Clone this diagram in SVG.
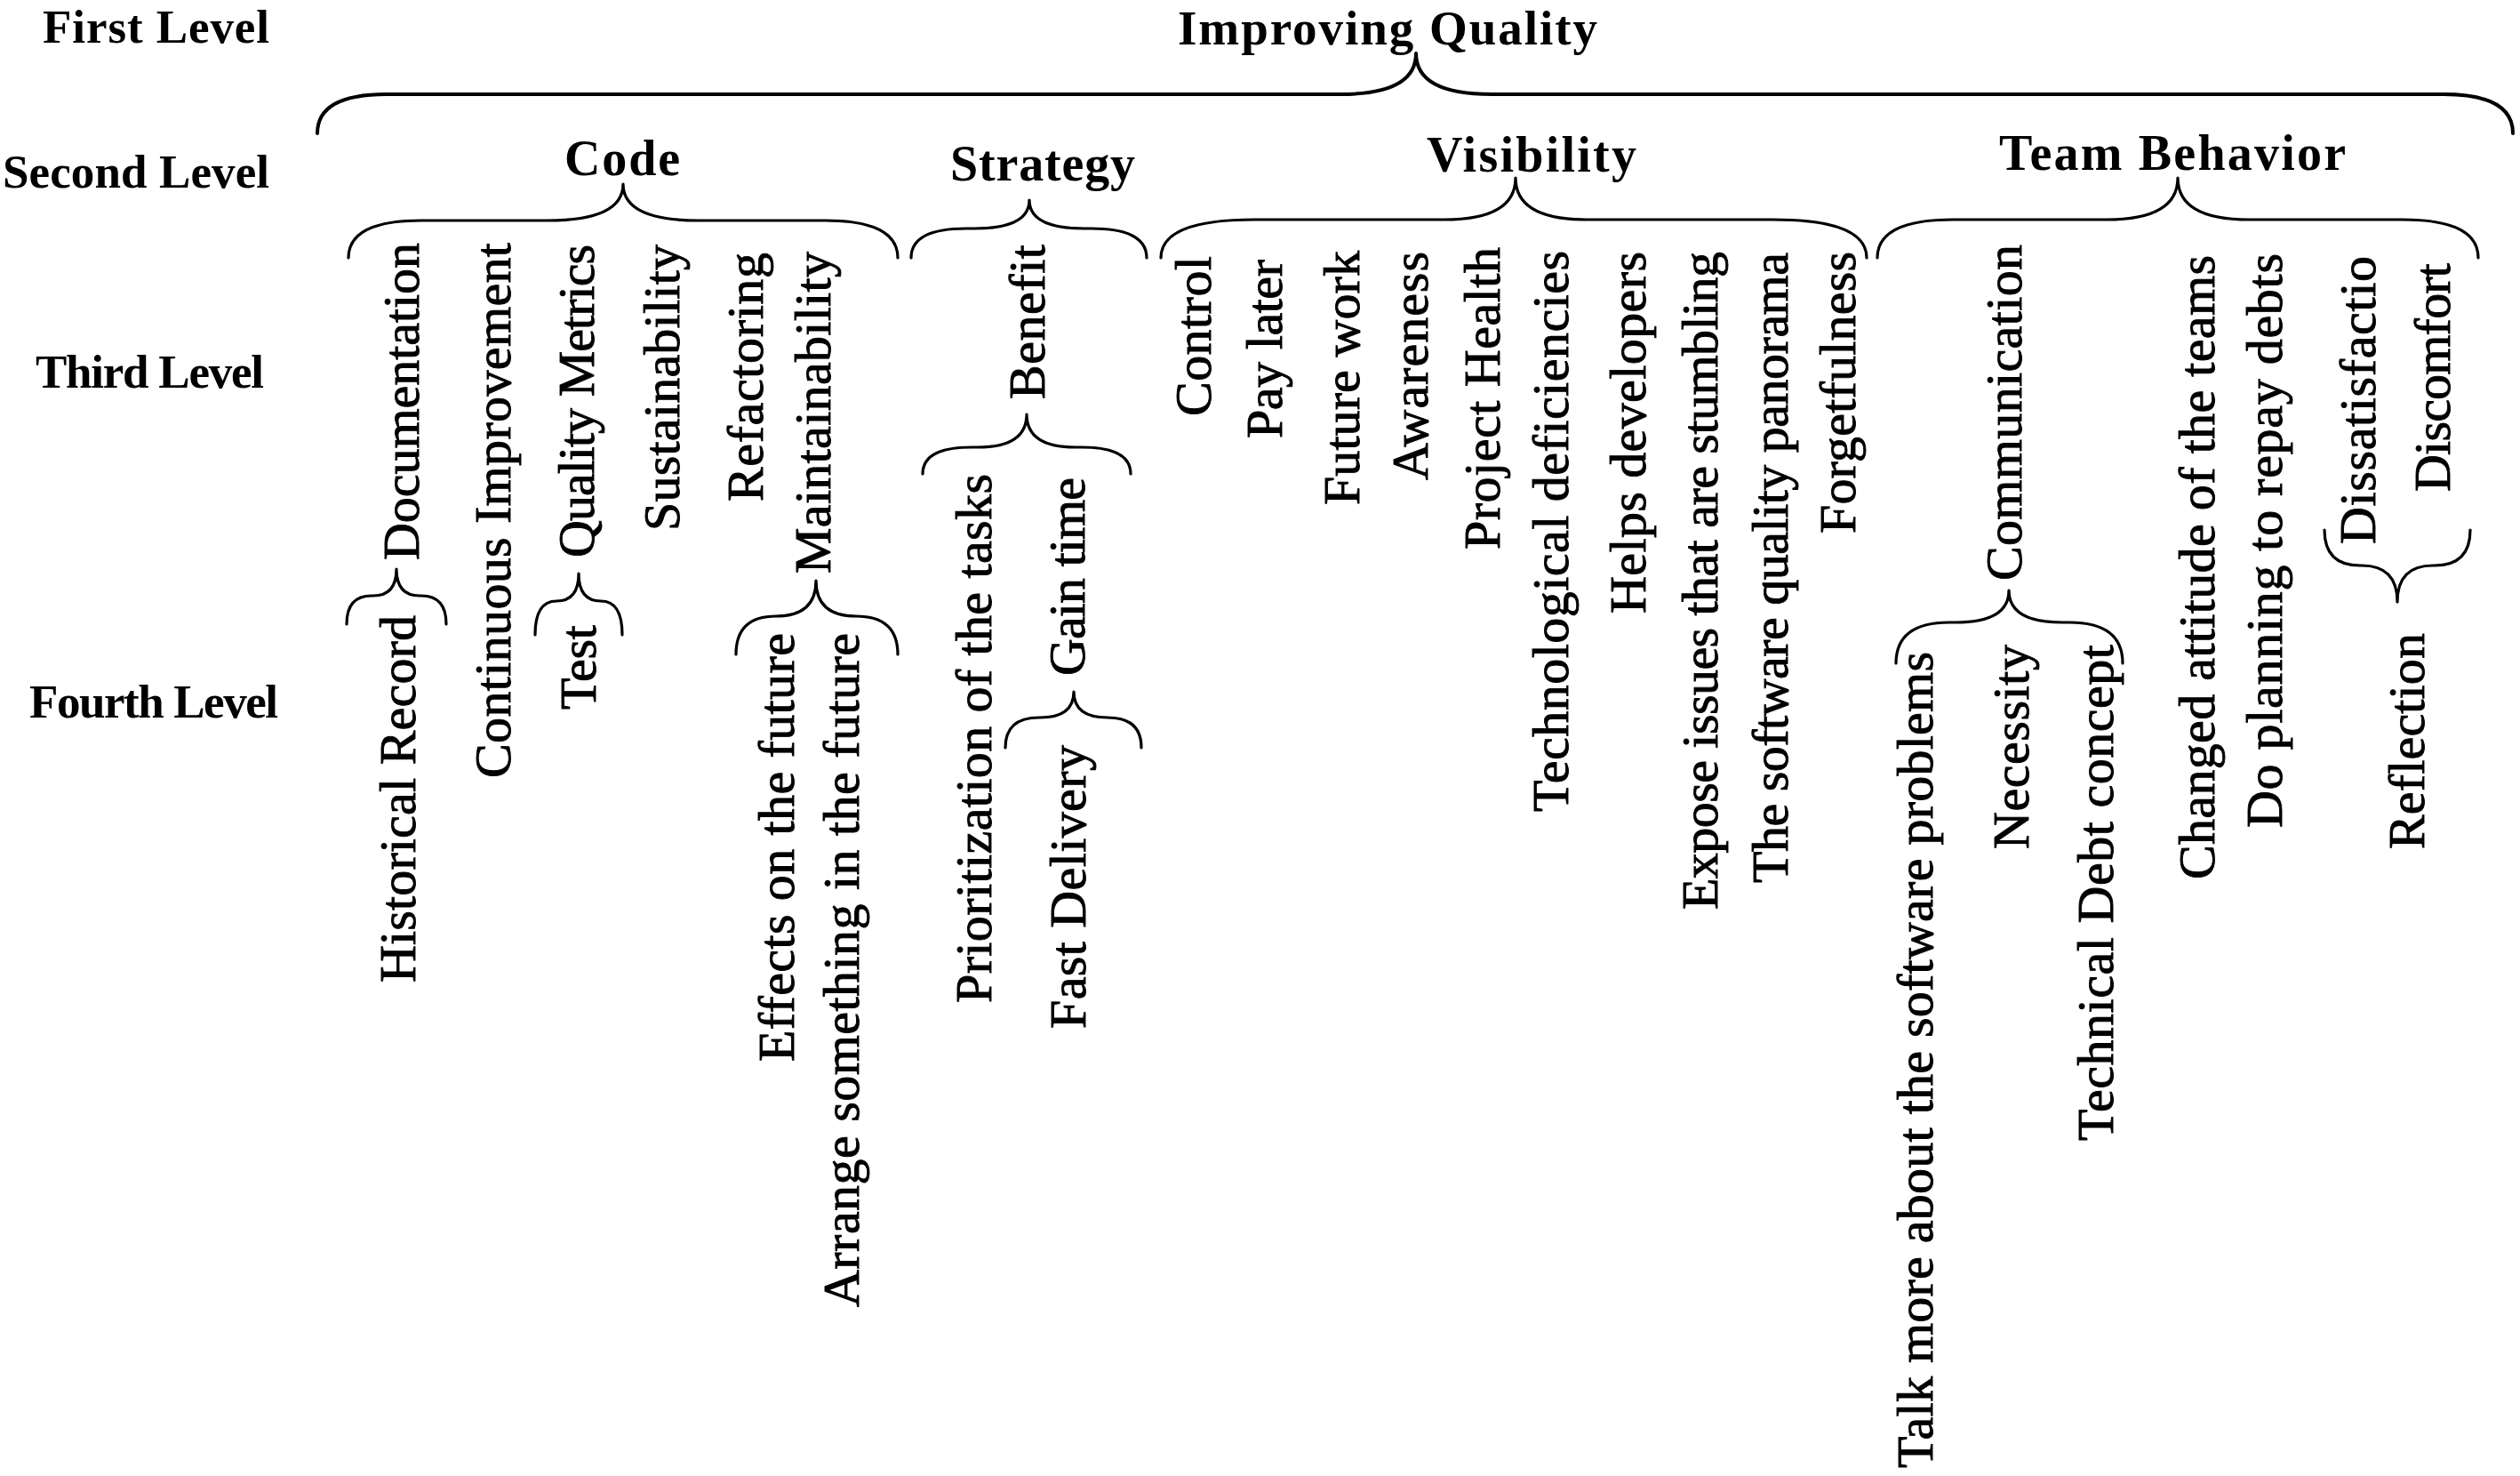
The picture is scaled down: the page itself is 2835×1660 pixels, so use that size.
<svg xmlns="http://www.w3.org/2000/svg" width="2835" height="1660" viewBox="0 0 2835 1660">
<style>
  text { font-family: "Liberation Serif", "Times New Roman", serif; fill: #000; }
  .lvl { font-size: 53px; font-weight: bold; }
  .top { font-size: 55px; font-weight: bold; }
  .l2 { font-size: 56px; font-weight: bold; }
  .v { font-size: 58px; stroke: #000; stroke-width: 0.9; }
  .brace { fill: none; stroke: #000; stroke-width: 4; stroke-linecap: round; stroke-linejoin: round; }
  .brace-s { fill: none; stroke: #000; stroke-width: 3.2; stroke-linecap: round; stroke-linejoin: round; }
</style>
<rect width="2835" height="1660" fill="#fff"/>

<g id="level-labels">
  <text class="lvl" x="48" y="48" textLength="255">First Level</text>
  <text class="lvl" x="3" y="211" textLength="300">Second Level</text>
  <text class="lvl" x="40" y="436" textLength="257">Third Level</text>
  <text class="lvl" x="33" y="807" textLength="280">Fourth Level</text>
</g>

<g id="connectors">
  <path class="brace" d="M357,150 Q357,106 435,106 L1508,106 Q1593,106 1593,60 Q1593,106 1678,106 L2749,106 Q2827,106 2827,150"/>
  <path class="brace-s" d="M392,290 Q392,248 474,248 L616,248 Q701,248 701,207 Q701,248 786,248 L928,248 Q1010,248 1010,290"/>
  <path class="brace-s" d="M1025,290 Q1025,257 1087,257 L1096,257 Q1158,257 1158,225 Q1158,257 1220,257 L1228,257 Q1290,257 1290,290"/>
  <path class="brace-s" d="M1306,290 Q1306,247 1411,247 L1625,247 Q1705,247 1705,200 Q1705,247 1785,247 L1995,247 Q2100,247 2100,290"/>
  <path class="brace-s" d="M2112,290 Q2112,247 2197,247 L2370,247 Q2450,247 2450,200 Q2450,247 2530,247 L2703,247 Q2788,247 2788,290"/>
  <path class="brace-s" d="M390,702 Q390,670 418,670 L420,670 Q446,670 446,640 Q446,670 472,670 L474,670 Q502,670 502,702"/>
  <path class="brace-s" d="M602,714 Q602,676 626,676 Q651,676 651,645 Q651,676 676,676 Q700,676 700,714"/>
  <path class="brace-s" d="M828,736 Q828,693 873,693 Q918,693 918,653 Q918,693 963,693 Q1010,693 1010,736"/>
  <path class="brace-s" d="M1038,533 Q1038,503 1093,503 L1100,503 Q1155,503 1155,466 Q1155,503 1210,503 L1217,503 Q1272,503 1272,533"/>
  <path class="brace-s" d="M1131,841 Q1131,807 1169,807 L1170,807 Q1208,807 1208,778 Q1208,807 1246,807 Q1284,807 1284,841"/>
  <path class="brace-s" d="M2133,746 Q2133,700 2193,700 L2200,700 Q2260,700 2260,664 Q2260,700 2320,700 L2328,700 Q2388,700 2388,746"/>
  <path class="brace-s" d="M2615,596 Q2615,636 2655,636 L2657,636 Q2697,636 2697,677 Q2697,636 2737,636 L2739,636 Q2779,636 2779,596"/>
</g>

<g id="n-improving-quality"><text class="top" x="1325" y="50" textLength="472">Improving Quality</text></g>

<g id="n-code"><text class="l2" x="635" y="197" textLength="130">Code</text></g>
<g id="n-strategy"><text class="l2" x="1069" y="203" textLength="208">Strategy</text></g>
<g id="n-visibility"><text class="l2" x="1605" y="193" textLength="236">Visibility</text></g>
<g id="n-team-behavior"><text class="l2" x="2249" y="191" textLength="390">Team Behavior</text></g>

<g id="n-documentation"><text class="v" transform="translate(471,630) rotate(-90)" textLength="357">Documentation</text></g>
<g id="n-historical-record"><text class="v" transform="translate(467,1105) rotate(-90)" textLength="413">Historical Record</text></g>
<g id="n-continuous-improvement"><text class="v" transform="translate(574,875) rotate(-90)" textLength="602">Continuous Improvement</text></g>
<g id="n-quality-metrics"><text class="v" transform="translate(668,627) rotate(-90)" textLength="352">Quality Metrics</text></g>
<g id="n-test"><text class="v" transform="translate(670,798) rotate(-90)" textLength="95">Test</text></g>
<g id="n-sustainability"><text class="v" transform="translate(764,597) rotate(-90)" textLength="322">Sustainability</text></g>
<g id="n-refactoring"><text class="v" transform="translate(858,564) rotate(-90)" textLength="280">Refactoring</text></g>
<g id="n-maintainability"><text class="v" transform="translate(934,645) rotate(-90)" textLength="362">Maintainability</text></g>
<g id="n-effects-future"><text class="v" transform="translate(893,1194) rotate(-90)" textLength="482">Effects on the future</text></g>
<g id="n-arrange-future"><text class="v" transform="translate(966,1470) rotate(-90)" textLength="758">Arrange something in the future</text></g>

<g id="n-benefit"><text class="v" transform="translate(1175,449) rotate(-90)" textLength="174">Benefit</text></g>
<g id="n-prioritization"><text class="v" transform="translate(1115,1128) rotate(-90)" textLength="595">Prioritization of the tasks</text></g>
<g id="n-gain-time"><text class="v" transform="translate(1220,760) rotate(-90)" textLength="223">Gain time</text></g>
<g id="n-fast-delivery"><text class="v" transform="translate(1221,1157) rotate(-90)" textLength="319">Fast Delivery</text></g>

<g id="n-control"><text class="v" transform="translate(1362,468) rotate(-90)" textLength="180">Control</text></g>
<g id="n-pay-later"><text class="v" transform="translate(1442,493) rotate(-90)" textLength="201">Pay later</text></g>
<g id="n-future-work"><text class="v" transform="translate(1529,568) rotate(-90)" textLength="286">Future work</text></g>
<g id="n-awareness"><text class="v" transform="translate(1606,540) rotate(-90)" textLength="257">Awareness</text></g>
<g id="n-project-health"><text class="v" transform="translate(1687,618) rotate(-90)" textLength="340">Project Health</text></g>
<g id="n-tech-deficiencies"><text class="v" transform="translate(1764,913) rotate(-90)" textLength="631">Technological deficiencies</text></g>
<g id="n-helps-developers"><text class="v" transform="translate(1851,690) rotate(-90)" textLength="407">Helps developers</text></g>
<g id="n-expose-issues"><text class="v" transform="translate(1932,1023) rotate(-90)" textLength="740">Expose issues that are stumbling</text></g>
<g id="n-quality-panorama"><text class="v" transform="translate(2011,993) rotate(-90)" textLength="709">The software quality panorama</text></g>
<g id="n-forgetfulness"><text class="v" transform="translate(2087,600) rotate(-90)" textLength="317">Forgetfulness</text></g>

<g id="n-communication"><text class="v" transform="translate(2274,653) rotate(-90)" textLength="378">Communication</text></g>
<g id="n-talk-more"><text class="v" transform="translate(2174,1651) rotate(-90)" textLength="918">Talk more about the software problems</text></g>
<g id="n-necessity"><text class="v" transform="translate(2282,955) rotate(-90)" textLength="230">Necessity</text></g>
<g id="n-td-concept"><text class="v" transform="translate(2377,1283) rotate(-90)" textLength="558">Technical Debt concept</text></g>
<g id="n-changed-attitude"><text class="v" transform="translate(2491,989) rotate(-90)" textLength="702">Changed attitude of the teams</text></g>
<g id="n-do-planning"><text class="v" transform="translate(2567,931) rotate(-90)" textLength="646">Do planning to repay debts</text></g>
<g id="n-dissatisfaction"><text class="v" transform="translate(2672,612) rotate(-90)" textLength="324">Dissatisfactio</text></g>
<g id="n-discomfort"><text class="v" transform="translate(2756,553) rotate(-90)" textLength="257">Discomfort</text></g>
<g id="n-reflection"><text class="v" transform="translate(2727,955) rotate(-90)" textLength="243">Reflection</text></g>
</svg>
